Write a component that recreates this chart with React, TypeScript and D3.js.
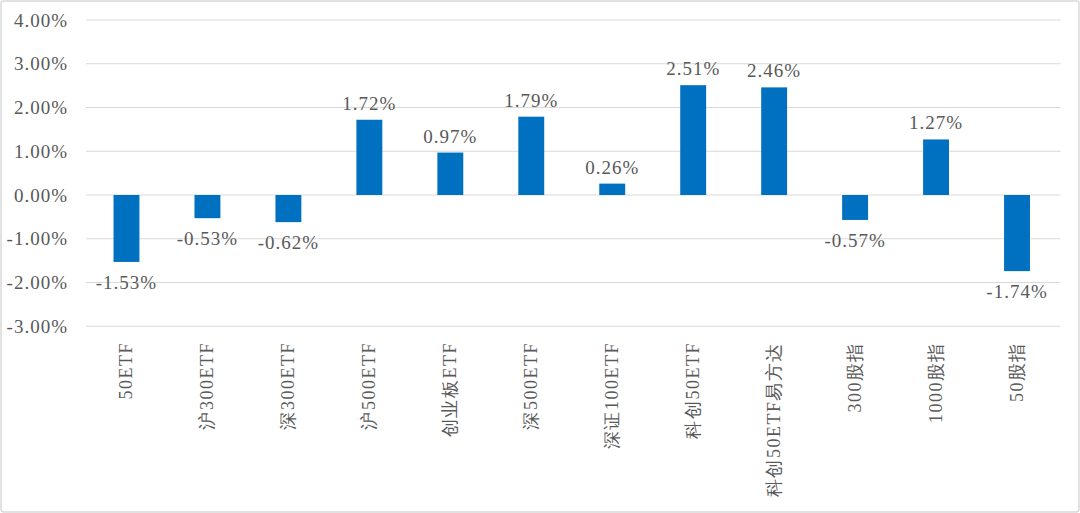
import React from "react";
import * as d3 from "d3";

const categories = ["50ETF", "沪300ETF", "深300ETF", "沪500ETF", "创业板ETF", "深500ETF", "深证100ETF", "科创50ETF", "科创50ETF易方达", "300股指", "1000股指", "50股指"];
const values = [-1.53, -0.53, -0.62, 1.72, 0.97, 1.79, 0.26, 2.51, 2.46, -0.57, 1.27, -1.74];
const yTicks = [-3, -2, -1, 0, 1, 2, 3, 4];

const W = 1080, H = 513;
const left = 86, right = 1057.5, top = 20, bottom = 326.25;
const textColor = "#595959";
const serif = "Liberation Serif";

export default function App() {
  const x = d3.scaleBand<string>().domain(categories).range([left, right]).paddingInner(0.68).paddingOuter(0.34);
  const y = d3.scaleLinear().domain([-3, 4]).range([bottom, top]);
  const bw = x.bandwidth();
  const band = (right - left) / categories.length;
  return (
    <svg width={W} height={H} style={{ position: "absolute", left: 0, top: 0, background: "#fff" }}>
      <rect x={1} y={1} width={W - 2} height={H - 2} rx={3} fill="#fff" stroke="#d9d9d9" strokeWidth={1.5} />
      {yTicks.map((t) => (
        <g key={t}>
          <line x1={left} x2={right + 3} y1={y(t)} y2={y(t)} stroke="#d9d9d9" strokeWidth={1.2} />
          <text x={68} y={y(t)} dy="0.35em" textAnchor="end" fontFamily={serif} fontSize={19} letterSpacing={1} fill={textColor}>
            {t.toFixed(2) + "%"}
          </text>
        </g>
      ))}
      {categories.map((c, i) => {
        const v = values[i];
        const cx = left + band * (i + 0.5);
        const y0 = y(0), y1 = y(v);
        return (
          <g key={c}>
            <rect x={cx - bw / 2} y={Math.min(y0, y1)} width={bw} height={Math.abs(y1 - y0)} fill="#0070C0" />
            <text x={cx} y={v >= 0 ? y1 - 10 : y1 + 27} textAnchor="middle" fontFamily={serif} fontSize={19} letterSpacing={1} fill={textColor}>
              {v.toFixed(2) + "%"}
            </text>
            <text transform={`translate(${cx + 6},342) rotate(-90)`} textAnchor="end" fontFamily={serif} fontSize={18} letterSpacing={1.5} fill={textColor}>
              {c}
            </text>
          </g>
        );
      })}
    </svg>
  );
}
